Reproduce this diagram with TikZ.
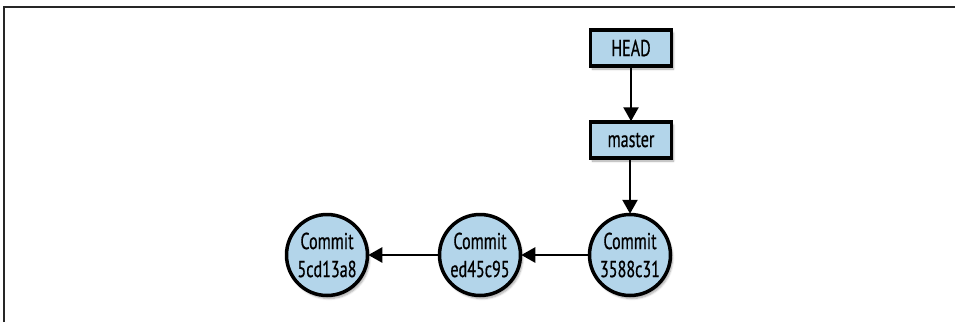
\documentclass[tikz,border=0pt]{standalone}
\usepackage{fontspec}
\setmainfont[FakeStretch=0.7,FakeBold=0.6]{PT Sans}
\usetikzlibrary{arrows.meta,shadows.blur}
\definecolor{gitblue}{HTML}{B3D5EA}
\tikzset{
  refbox/.style={draw=black, line width=3.5pt, fill=gitblue, minimum width=81pt, minimum height=36pt, inner sep=0pt,
    font=\fontsize{23}{28}\selectfont, blur shadow={shadow xshift=2pt, shadow yshift=-3pt, shadow blur steps=6, shadow opacity=35}},
  commit/.style={circle, draw=black, line width=3.5pt, fill=gitblue, minimum size=81pt, inner sep=0pt, align=center,
    font=\fontsize{23}{28}\selectfont, blur shadow={shadow xshift=2pt, shadow yshift=-3pt, shadow blur steps=6, shadow opacity=35}},
  link/.style={line width=2.5pt, -{Triangle[length=14pt, width=15pt]}, shorten >=-1pt},
  frame/.style={line width=1.5pt, draw=black!85}
}
\begin{document}
\begin{tikzpicture}[x=1pt, y=-1pt]
\useasboundingbox (0,0) rectangle (955,322);
\coordinate (fa) at (4,322);
\coordinate (fb) at (4,7);
\coordinate (fc) at (955,7);
\draw[frame] (fa) -- (fb) -- (fc);
\node[refbox] (head) at (631,48) {HEAD};
\node[refbox] (master) at (631,140) {master};
\node[commit] (c3) at (630,255) {Commit\\3588c31};
\node[commit] (c2) at (480,255) {Commit\\ed45c95};
\node[commit] (c1) at (327,255) {Commit\\5cd13a8};
\draw[link] (head) -- (master);
\draw[link] (master.south -| c3) -- (c3);
\draw[link] (c3) -- (c2);
\draw[link] (c2) -- (c1);
\end{tikzpicture}
\end{document}
